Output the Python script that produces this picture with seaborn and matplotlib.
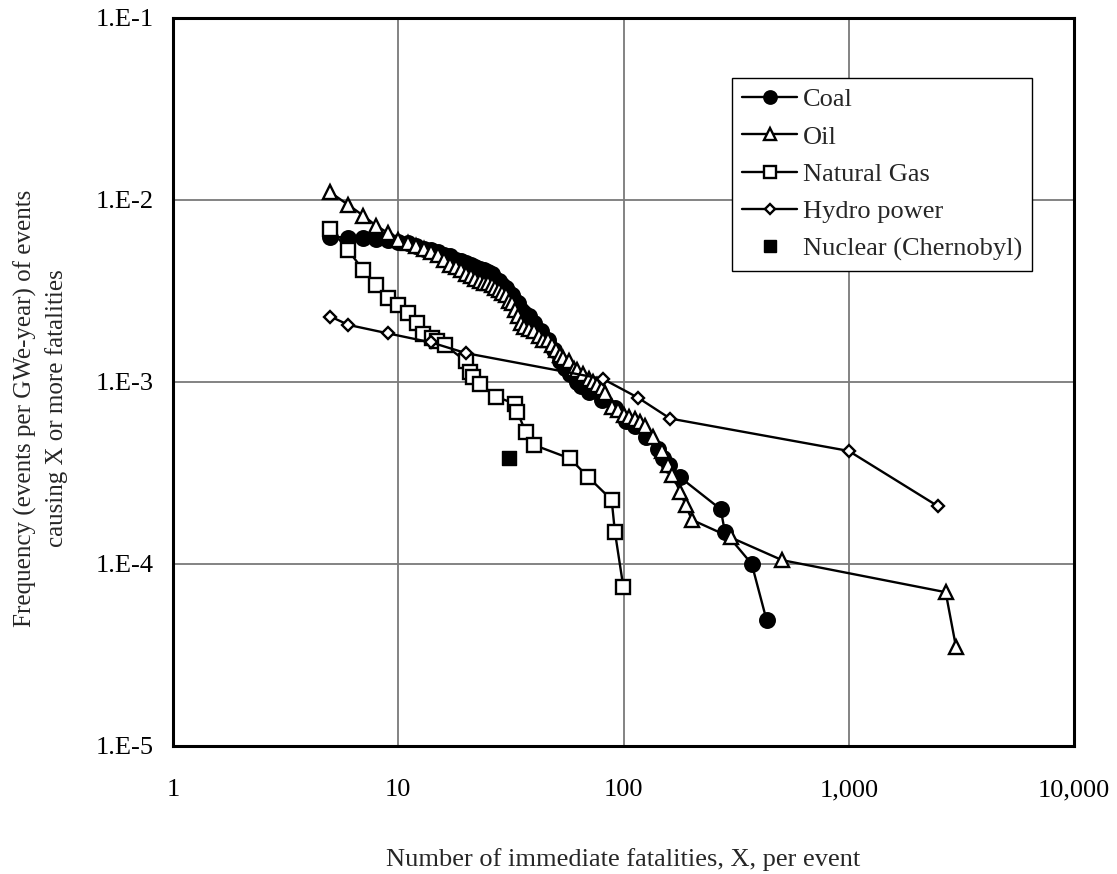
import numpy as np
import pandas as pd
import matplotlib
matplotlib.use("Agg")
import matplotlib.pyplot as plt
import seaborn as sns
from matplotlib.lines import Line2D

# data
coal_x = [5, 6, 7, 8, 9, 10, 11, 12, 13, 14, 15, 16, 17, 18, 19, 20, 21, 22, 23, 24,
          25, 26, 27, 28, 29, 30, 31, 32, 33, 34, 35, 36, 38, 40, 43, 46, 49, 52, 55,
          58, 62, 65, 70, 80, 92, 103, 112, 126, 143, 150, 160, 178, 270, 282, 371, 432]
coal_y = [0.0063, 0.0062, 0.0062, 0.0061, 0.0060, 0.0059, 0.0058, 0.0056, 0.0054, 0.0053,
          0.0052, 0.0050, 0.0049, 0.0047, 0.0046, 0.0045, 0.0044, 0.0043, 0.0042, 0.0041,
          0.0040, 0.0039, 0.0037, 0.0036, 0.0034, 0.0033, 0.0031, 0.0030, 0.0028, 0.0027,
          0.0025, 0.0024, 0.0023, 0.0021, 0.0019, 0.0017, 0.0015, 0.0013, 0.0012,
          0.0011, 0.0010, 0.00095, 0.00088, 0.00080, 0.00072, 0.00061, 0.00057, 0.00050,
          0.00043, 0.00038, 0.00035, 0.00030, 0.00020, 0.00015, 0.00010, 0.000049]

oil_x = [5, 6, 7, 8, 9, 10, 11, 12, 13, 14, 15, 16, 17, 18, 19, 20, 21, 22, 23, 24,
         25, 26, 27, 28, 29, 30, 31, 32, 33, 34, 35, 36, 38, 40, 42, 44, 46, 48, 50,
         52, 54, 57, 60, 62, 66, 70, 73, 76, 80, 83, 89, 95, 100, 106, 112, 118, 125,
         135, 148, 158, 165, 178, 189, 201, 299, 506, 2693, 2993]
oil_y = [0.0110, 0.0094, 0.0082, 0.0072, 0.0066, 0.0060, 0.0058, 0.0056, 0.0054, 0.0052,
         0.0050, 0.0047, 0.0044, 0.0043, 0.0041, 0.0039, 0.0038, 0.0037, 0.0036, 0.0035,
         0.0035, 0.0034, 0.0033, 0.0032, 0.0031, 0.0030, 0.0028, 0.0027, 0.0025, 0.0023,
         0.0021, 0.0020, 0.00195, 0.0019, 0.0018, 0.0017, 0.0017, 0.0016, 0.0015,
         0.0014, 0.00135, 0.0013, 0.00118, 0.00116, 0.0011, 0.00104, 0.0010, 0.00096,
         0.00093, 0.00087, 0.00073, 0.00070, 0.00066, 0.00064, 0.00063, 0.00060, 0.00057,
         0.00050, 0.00042, 0.00035, 0.00031, 0.00025, 0.00021, 0.000175, 0.00014,
         0.000105, 0.00007, 0.000035]

gas_x = [5, 6, 7, 8, 9, 10, 11, 12.1, 12.9, 14.1, 14.8, 16.1, 19.9, 20.8, 21.5, 23.1,
         27.1, 33, 33.8, 36.9, 40.2, 57.8, 69.8, 88.6, 91.6, 99.8]
gas_y = [0.0069, 0.0053, 0.0041, 0.0034, 0.0029, 0.00265, 0.0024, 0.0021, 0.00184,
         0.00174, 0.00167, 0.0016, 0.0013, 0.00114, 0.00107, 0.00098, 0.00083, 0.00076,
         0.00068, 0.00053, 0.00045, 0.00038, 0.00030, 0.000225, 0.00015, 0.000075]

hydro_x = [5, 6, 9, 14, 20, 81, 116, 161, 1000, 2500]
hydro_y = [0.00229, 0.00206, 0.00185, 0.00165, 0.00144, 0.00104, 0.00082, 0.00063,
           0.000418, 0.000207]

nuclear_x = [31]
nuclear_y = [0.00038]

series_names = ["Coal", "Oil", "Natural Gas", "Hydro power", "Nuclear (Chernobyl)"]
x_ticks = [1, 10, 100, 1000, 10000]
x_tick_labels = ["1", "10", "100", "1,000", "10,000"]
y_ticks = [1e-5, 1e-4, 1e-3, 1e-2, 1e-1]
y_tick_labels = ["1.E-5", "1.E-4", "1.E-3", "1.E-2", "1.E-1"]

sns.set_style("white")
plt.rcParams["font.family"] = ["Liberation Serif", "DejaVu Serif"]

W, H = 1117, 874
fig = plt.figure(figsize=(W / 100, H / 100), dpi=100)
ax = fig.add_axes([173 / W, 1 - 746 / H, 901 / W, 728 / H])

styles = [
    dict(marker="o", markersize=10.5, markerfacecolor="black"),
    dict(marker="^", markersize=10, markerfacecolor="white"),
    dict(marker="s", markersize=9.5, markerfacecolor="white"),
    dict(marker="D", markersize=6.5, markerfacecolor="white"),
]
data_sets = [(coal_x, coal_y), (oil_x, oil_y), (gas_x, gas_y), (hydro_x, hydro_y)]

handles = []
for name, (xs, ys), st in zip(series_names, data_sets, styles):
    df = pd.DataFrame({"x": xs, "y": ys})
    sns.lineplot(data=df, x="x", y="y", ax=ax, color="black", linewidth=1.7,
                 estimator=None, sort=False, markeredgecolor="black",
                 markeredgewidth=1.7, legend=False, zorder=3, **st)
    leg_st = dict(st)
    leg_st["markersize"] = st["markersize"] * 0.85
    handles.append(Line2D([], [], color="black", linewidth=1.7, markeredgecolor="black",
                          markeredgewidth=1.7, label=name, **leg_st))

nuc = pd.DataFrame({"x": nuclear_x, "y": nuclear_y})
sns.scatterplot(data=nuc, x="x", y="y", ax=ax, marker="s", s=110, color="black",
                edgecolor="black", linewidth=1, legend=False, zorder=4)
handles.append(Line2D([], [], linestyle="none", marker="s", markersize=9,
                      markerfacecolor="black", markeredgecolor="black",
                      label=series_names[4]))

ax.set_xscale("log")
ax.set_yscale("log")
ax.set_xlim(1, 10000)
ax.set_ylim(1e-5, 1e-1)
ax.set_xticks(x_ticks)
ax.set_xticklabels(x_tick_labels)
ax.set_yticks(y_ticks)
ax.set_yticklabels(y_tick_labels)
ax.minorticks_off()
ax.grid(True, which="major", color="#7a7a7a", linewidth=1.3)
ax.set_axisbelow(True)
ax.tick_params(axis="both", which="major", direction="in", length=5, width=1,
               labelsize=19, colors="black")
ax.tick_params(axis="x", pad=24)
ax.tick_params(axis="y", pad=14)
for sp in ax.spines.values():
    sp.set_color("black")
    sp.set_linewidth(2.2)
ax.set_xlabel("")
ax.set_ylabel("")

leg = ax.legend(handles=handles, loc="upper right",
                bbox_to_anchor=((1032 - 173) / 901, (746 - 78) / 728),
                borderaxespad=0, fontsize=19, frameon=True, fancybox=False,
                handlelength=2.1, handletextpad=0.2, labelspacing=0.52,
                borderpad=0.38)
leg.get_frame().set_edgecolor("black")
leg.get_frame().set_linewidth(1)
leg.get_frame().set_alpha(1)

fig.text(623 / W, 1 - 860 / H, "Number of immediate fatalities, X, per event",
         ha="center", va="center", fontsize=19)
fig.text(41 / W, 1 - 408 / H,
         "Frequency (events per GWe-year) of events\ncausing X or more fatalities",
         rotation=90, ha="center", va="center", multialignment="center",
         fontsize=18, linespacing=1.45)

fig.savefig("out.png", dpi=100)
